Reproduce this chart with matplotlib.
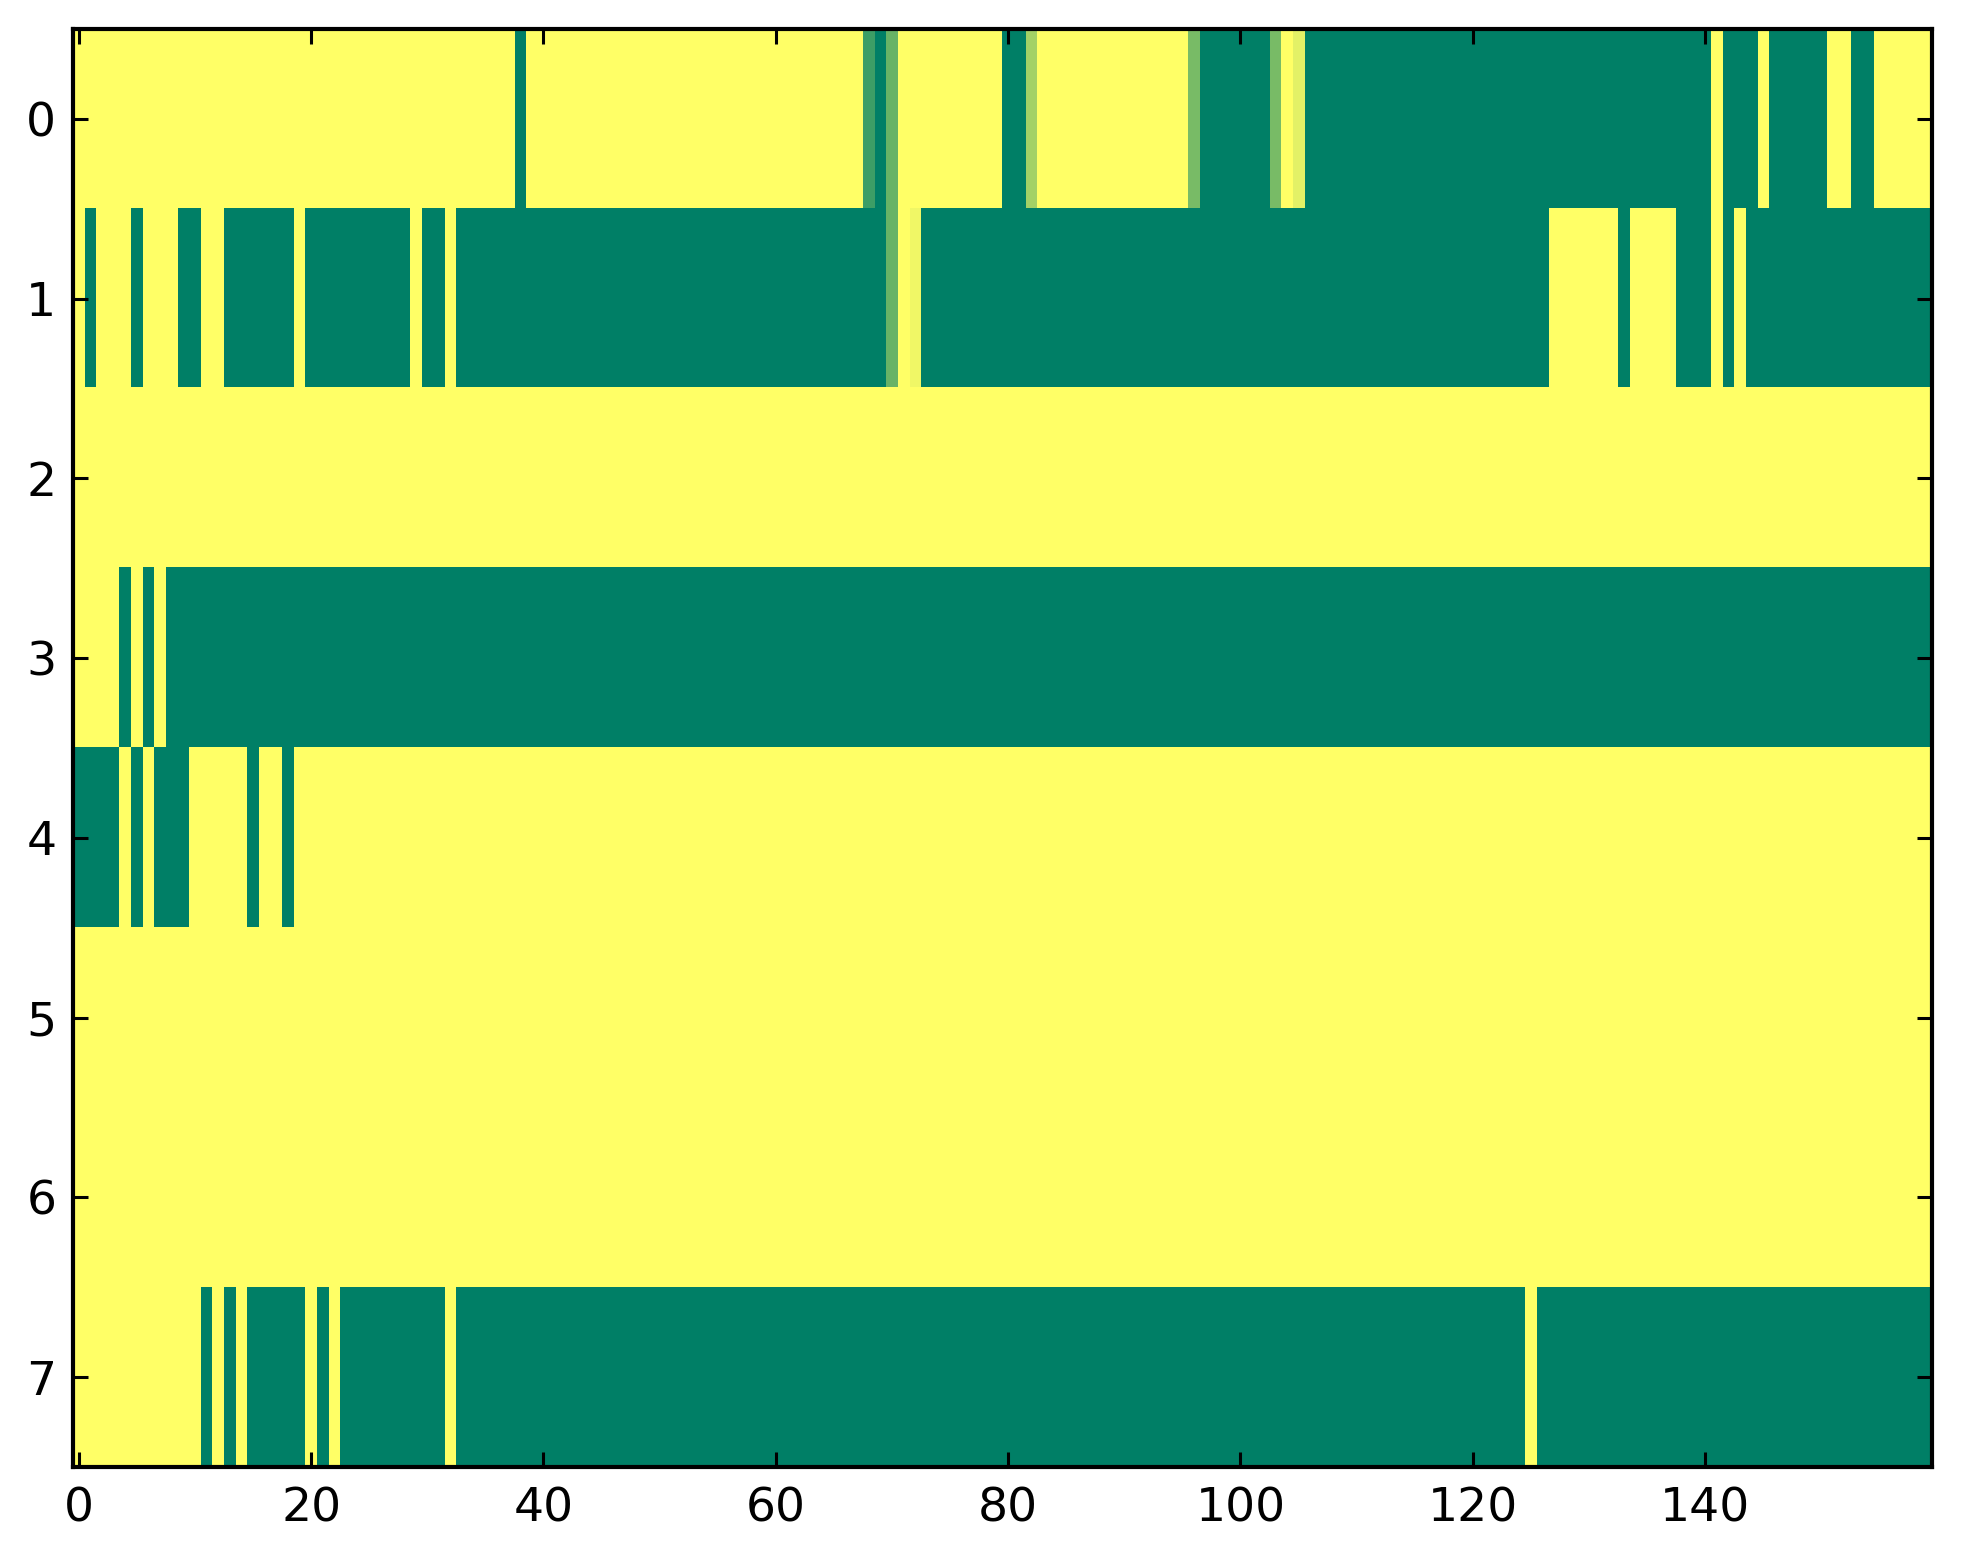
import numpy as np
import matplotlib
matplotlib.use('Agg')
import matplotlib.pyplot as plt

# each row as runs of (value, number of columns), read left to right
row0 = [(1, 38), (0, 1), (1, 29), (0.24, 1), (0, 1), (0.41, 1), (1, 9), (0, 2),
        (0.64, 1), (1, 13), (0.47, 1), (0, 6), (0.47, 1), (1, 1), (0.89, 1),
        (0, 35), (1, 1), (0, 3), (1, 1), (0, 5), (1, 2), (0, 2), (1, 5)]
row1 = [(1, 1), (0, 1), (1, 3), (0, 1), (1, 3), (0, 2), (1, 2), (0, 6), (1, 1),
        (0, 9), (1, 1), (0, 2), (1, 1), (0, 37), (0.41, 1), (1, 1), (0.94, 1),
        (0, 54), (1, 6), (0, 1), (1, 4), (0, 3), (1, 1), (0, 1), (1, 1), (0, 16)]
row2 = [(1, 160)]
row3 = [(1, 4), (0, 1), (1, 1), (0, 1), (1, 1), (0, 152)]
row4 = [(0, 4), (1, 1), (0, 1), (1, 1), (0, 3), (1, 5), (0, 1), (1, 2), (0, 1), (1, 141)]
row5 = [(1, 160)]
row6 = [(1, 160)]
row7 = [(1, 11), (0, 1), (1, 1), (0, 1), (1, 1), (0, 5), (1, 1), (0, 1), (1, 1),
        (0, 9), (1, 1), (0, 92), (1, 1), (0, 34)]

rows = [row0, row1, row2, row3, row4, row5, row6, row7]


def expand(runs):
    vals = [v for v, n in runs]
    counts = [n for v, n in runs]
    return np.repeat(vals, counts)


data = np.array([expand(r) for r in rows])

fig = plt.figure(figsize=(19.63, 15.64), dpi=100)
ax = fig.add_axes([0.0372, 0.062, 0.9468, 0.9195])
ax.imshow(data, cmap='summer', vmin=0, vmax=1, aspect='auto', interpolation='nearest')

ax.set_xticks(np.arange(0, 160, 20))
ax.set_yticks(np.arange(0, 8))
ax.tick_params(direction='in', top=True, right=True, length=11, width=2.2,
               labelsize=34)
ax.tick_params(axis='x', pad=14)
ax.tick_params(axis='y', pad=12)
for s in ax.spines.values():
    s.set_linewidth(3)

fig.savefig('out.png', dpi=100)
